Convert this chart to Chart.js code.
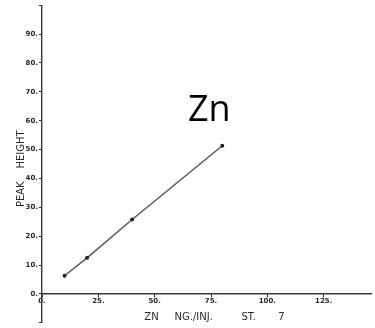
<!DOCTYPE html>
<html>
<head>
<meta charset="utf-8">
<script src="https://cdn.jsdelivr.net/npm/chart.js@4/dist/chart.umd.min.js"></script>
<style>
  html, body { margin: 0; padding: 0; background: #fff; }
  #wrap { width: 375px; height: 328px; }
</style>
</head>
<body>
<div id="wrap"><canvas id="c" width="375" height="328"></canvas></div>
<script>
// Data
const concentrations = [10, 20, 40, 80];          // ZN NG./INJ.
const peakHeights = [6.3, 12.5, 25.8, 51.3];      // PEAK HEIGHT
const xTickValues = [0, 25, 50, 75, 100, 125];
const xTickLabels = ['0.', '25.', '50.', '75.', '100.', '125.'];
const yTickValues = [0, 10, 20, 30, 40, 50, 60, 70, 80, 90];
const yTickLabels = ['0.', '10.', '20.', '30.', '40.', '50.', '60.', '70.', '80.', '90.'];
const xTitle = '     ZN     NG./INJ.         ST.       7';
const yTitle = 'PEAK    HEIGHT   ';
const elementLabel = 'Zn';

const ink = '#2a2a2a';
const tickFont = { family: 'DejaVu Sans', size: 7, weight: 'bold' };

const labelPlugin = {
  id: 'elementLabel',
  afterDraw(chart) {
    const { ctx, chartArea } = chart;
    ctx.save();
    ctx.fillStyle = '#000';
    ctx.font = '36px "Liberation Sans Narrow", "Open Sans", sans-serif';
    ctx.textAlign = 'left';
    ctx.textBaseline = 'alphabetic';
    ctx.fillText(elementLabel, chartArea.left + 146, chartArea.top + 116);
    ctx.restore();
  }
};

new Chart(document.getElementById('c'), {
  type: 'scatter',
  data: {
    datasets: [{
      data: concentrations.map((x, i) => ({ x, y: peakHeights[i] })),
      showLine: true,
      borderColor: '#555',
      borderWidth: 1.4,
      pointRadius: 2,
      pointBackgroundColor: '#222',
      pointBorderColor: '#222',
      pointBorderWidth: 0,
      tension: 0
    }]
  },
  options: {
    responsive: false,
    animation: false,
    layout: { padding: { left: 0, right: 0, top: 5, bottom: 3 } },
    plugins: { legend: { display: false }, tooltip: { enabled: false } },
    scales: {
      x: {
        type: 'linear',
        position: { y: 0 },
        min: 0,
        max: 146,
        afterBuildTicks: (s) => { s.ticks = xTickValues.map(v => ({ value: v })); },
        ticks: {
          font: tickFont,
          color: ink,
          padding: 0,
          maxRotation: 0,
          autoSkip: false,
          callback: (v) => { const i = xTickValues.indexOf(v); return i >= 0 ? xTickLabels[i] : ''; }
        },
        grid: { drawOnChartArea: false, drawTicks: true, tickLength: 3, color: ink, lineWidth: 1 },
        border: { display: true, color: '#3a3a3a', width: 1.4 },
        title: {
          display: true,
          text: xTitle,
          color: ink,
          font: { family: 'DejaVu Sans', size: 10 },
          padding: { top: 6.5, bottom: 0 }
        }
      },
      y: {
        type: 'linear',
        position: 'left',
        min: -10,
        max: 100,
        afterBuildTicks: (s) => { s.ticks = [-10].concat(yTickValues, [100]).map(v => ({ value: v })); },
        afterFit: (s) => { s.width = 42; },
        ticks: {
          font: tickFont,
          color: ink,
          padding: 1,
          autoSkip: false,
          callback: (v) => { const i = yTickValues.indexOf(v); return i >= 0 ? yTickLabels[i] : ''; }
        },
        grid: { drawOnChartArea: false, drawTicks: true, tickLength: 3, color: ink, lineWidth: 1 },
        border: { display: true, color: '#3a3a3a', width: 1.4 },
        title: {
          display: true,
          text: yTitle,
          color: ink,
          font: { family: 'DejaVu Sans', size: 10 },
          padding: { top: 15, bottom: 0 }
        }
      }
    }
  },
  plugins: [labelPlugin]
});
</script>
</body>
</html>
